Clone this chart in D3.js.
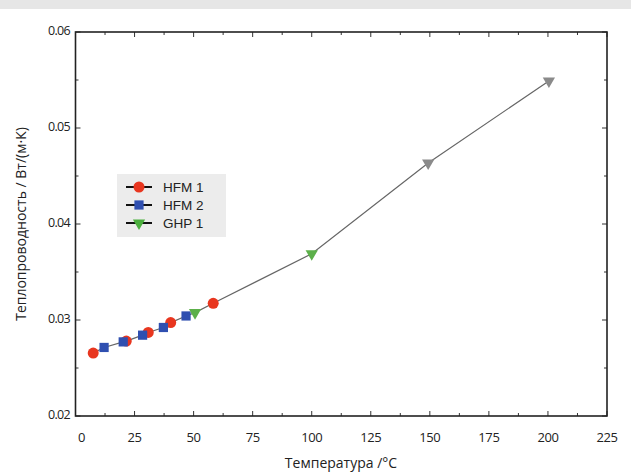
<!DOCTYPE html>
<html>
<head>
<meta charset="utf-8">
<script src="https://cdn.jsdelivr.net/npm/d3@7"></script>
<style>
  body { margin: 0; background: #fff; }
  svg { display: block; }
</style>
</head>
<body>
<div id="chartContainer"></div>
<script>
// data
var hfm1T = [7.5, 21.5, 30.8, 40.3, 58.3];
var hfm1K = [0.02655, 0.0278, 0.0287, 0.02973, 0.03174];
var hfm2T = [12.1, 20.2, 28.4, 37.2, 46.8];
var hfm2K = [0.02714, 0.02772, 0.02842, 0.02922, 0.03042];
var ghp1T = [50.6, 100];
var ghp1K = [0.03077, 0.0369];
var ghpHotT = [149.3, 200.4];
var ghpHotK = [0.04636, 0.0549];
var xTicks = [0, 25, 50, 75, 100, 125, 150, 175, 200, 225];
var yTicks = [0.02, 0.03, 0.04, 0.05, 0.06];
var legendNames = ["HFM 1", "HFM 2", "GHP 1"];

function init() {
    var w = 631, h = 475;
    var svg = d3.select("#chartContainer").append("svg")
                .attr("width", w).attr("height", h);

    // grey strip at the top
    svg.append("rect").attr("x", 0).attr("y", 0).attr("width", w).attr("height", 9)
       .attr("fill", "#e6e6e6");

    var x = d3.scaleLinear().domain([0, 225]).range([75.5, 607]);
    var y = d3.scaleLinear().domain([0.02, 0.06]).range([416, 32]);

    var fontTick = "'Open Sans', sans-serif";

    // ticks (inward, all sides)
    var xMinor = d3.range(12.5, 225, 25);
    var yMinor = [0.025, 0.035, 0.045, 0.055];
    var g = svg.append("g").attr("stroke", "#333").attr("stroke-width", 1);
    xTicks.forEach(function(t) {
        g.append("line").attr("x1", x(t)).attr("x2", x(t)).attr("y1", y(0.02)).attr("y2", y(0.02) - 5);
        g.append("line").attr("x1", x(t)).attr("x2", x(t)).attr("y1", y(0.06)).attr("y2", y(0.06) + 5);
    });
    xMinor.forEach(function(t) {
        g.append("line").attr("x1", x(t)).attr("x2", x(t)).attr("y1", y(0.02)).attr("y2", y(0.02) - 3);
        g.append("line").attr("x1", x(t)).attr("x2", x(t)).attr("y1", y(0.06)).attr("y2", y(0.06) + 3);
    });
    yTicks.forEach(function(t) {
        g.append("line").attr("x1", x(0)).attr("x2", x(0) + 5).attr("y1", y(t)).attr("y2", y(t));
        g.append("line").attr("x1", x(225)).attr("x2", x(225) - 5).attr("y1", y(t)).attr("y2", y(t));
    });
    yMinor.forEach(function(t) {
        g.append("line").attr("x1", x(0)).attr("x2", x(0) + 3).attr("y1", y(t)).attr("y2", y(t));
        g.append("line").attr("x1", x(225)).attr("x2", x(225) - 3).attr("y1", y(t)).attr("y2", y(t));
    });

    // frame
    svg.append("rect")
       .attr("x", x(0)).attr("y", y(0.06))
       .attr("width", x(225) - x(0)).attr("height", y(0.02) - y(0.06))
       .attr("fill", "none").attr("stroke", "#222").attr("stroke-width", 1.6);

    // tick labels
    svg.selectAll(".xl").data(xTicks).enter().append("text")
       .attr("x", function(d) { return x(d) + (d === 0 ? 6 : 0); })
       .attr("y", 442)
       .attr("text-anchor", "middle")
       .style("font", "13px " + fontTick).style("letter-spacing", "-0.4px").attr("fill", "#222")
       .text(function(d) { return d; });
    svg.selectAll(".yl").data(yTicks).enter().append("text")
       .attr("x", 70)
       .attr("y", function(d) { return y(d) + 3; })
       .attr("text-anchor", "end")
       .style("font", "12.5px " + fontTick).style("letter-spacing", "-0.7px").attr("fill", "#222")
       .text(function(d) { return d.toFixed(2); });

    // axis titles
    svg.append("text").attr("x", 341).attr("y", 468).attr("text-anchor", "middle")
       .style("font", "14px " + fontTick).attr("fill", "#222")
       .text("Температура /°C");
    svg.append("text").attr("transform", "translate(26,224) rotate(-90)")
       .attr("text-anchor", "middle")
       .style("font", "14px " + fontTick).attr("fill", "#222")
       .text("Теплопроводность / Вт/(м·К)");

    // connecting line through all points
    var all = [];
    hfm1T.forEach(function(t, i) { all.push([t, hfm1K[i]]); });
    hfm2T.forEach(function(t, i) { all.push([t, hfm2K[i]]); });
    ghp1T.forEach(function(t, i) { all.push([t, ghp1K[i]]); });
    ghpHotT.forEach(function(t, i) { all.push([t, ghpHotK[i]]); });
    all.sort(function(a, b) { return a[0] - b[0]; });
    var line = d3.line().x(function(d) { return x(d[0]); }).y(function(d) { return y(d[1]); });
    svg.append("path").attr("d", line(all))
       .attr("fill", "none").attr("stroke", "#666").attr("stroke-width", 1.2);

    var circle = d3.symbol().type(d3.symbolCircle).size(95);
    var square = d3.symbol().type(d3.symbolSquare).size(85);
    var tri = d3.symbol().type(d3.symbolTriangle).size(65);

    function drawSeries(T, K, sym, color, rot) {
        svg.append("g").selectAll("path").data(T).enter().append("path")
           .attr("d", sym)
           .attr("transform", function(d, i) {
               return "translate(" + x(d) + "," + y(K[i]) + ")" + (rot ? " rotate(180)" : "");
           })
           .attr("fill", color);
    }
    drawSeries(hfm1T, hfm1K, circle, "#e8361f", false);
    drawSeries(hfm2T, hfm2K, square, "#2f4fb0", false);
    drawSeries(ghp1T, ghp1K, tri, "#5cb04a", true);
    drawSeries(ghpHotT, ghpHotK, tri, "#8a8a8a", true);

    // legend
    var leg = svg.append("g");
    leg.append("rect").attr("x", 117).attr("y", 174).attr("width", 109).attr("height", 63)
       .attr("fill", "#ececec");
    var legSyms = [circle, square, tri];
    var legColors = ["#e8361f", "#2f4fb0", "#4caf3f"];
    legendNames.forEach(function(name, i) {
        var ly = 187 + i * 18;
        leg.append("line").attr("x1", 126).attr("x2", 152).attr("y1", ly).attr("y2", ly)
           .attr("stroke", "#111").attr("stroke-width", 2);
        leg.append("path").attr("d", legSyms[i])
           .attr("transform", "translate(139," + ly + ")" + (i === 2 ? " rotate(180)" : ""))
           .attr("fill", legColors[i]);
        leg.append("text").attr("x", 163).attr("y", ly + 5)
           .style("font", "13.5px 'Liberation Sans', Arial, sans-serif").attr("fill", "#222")
           .text(name);
    });
}

window.onload = init;
</script>
</body>
</html>
